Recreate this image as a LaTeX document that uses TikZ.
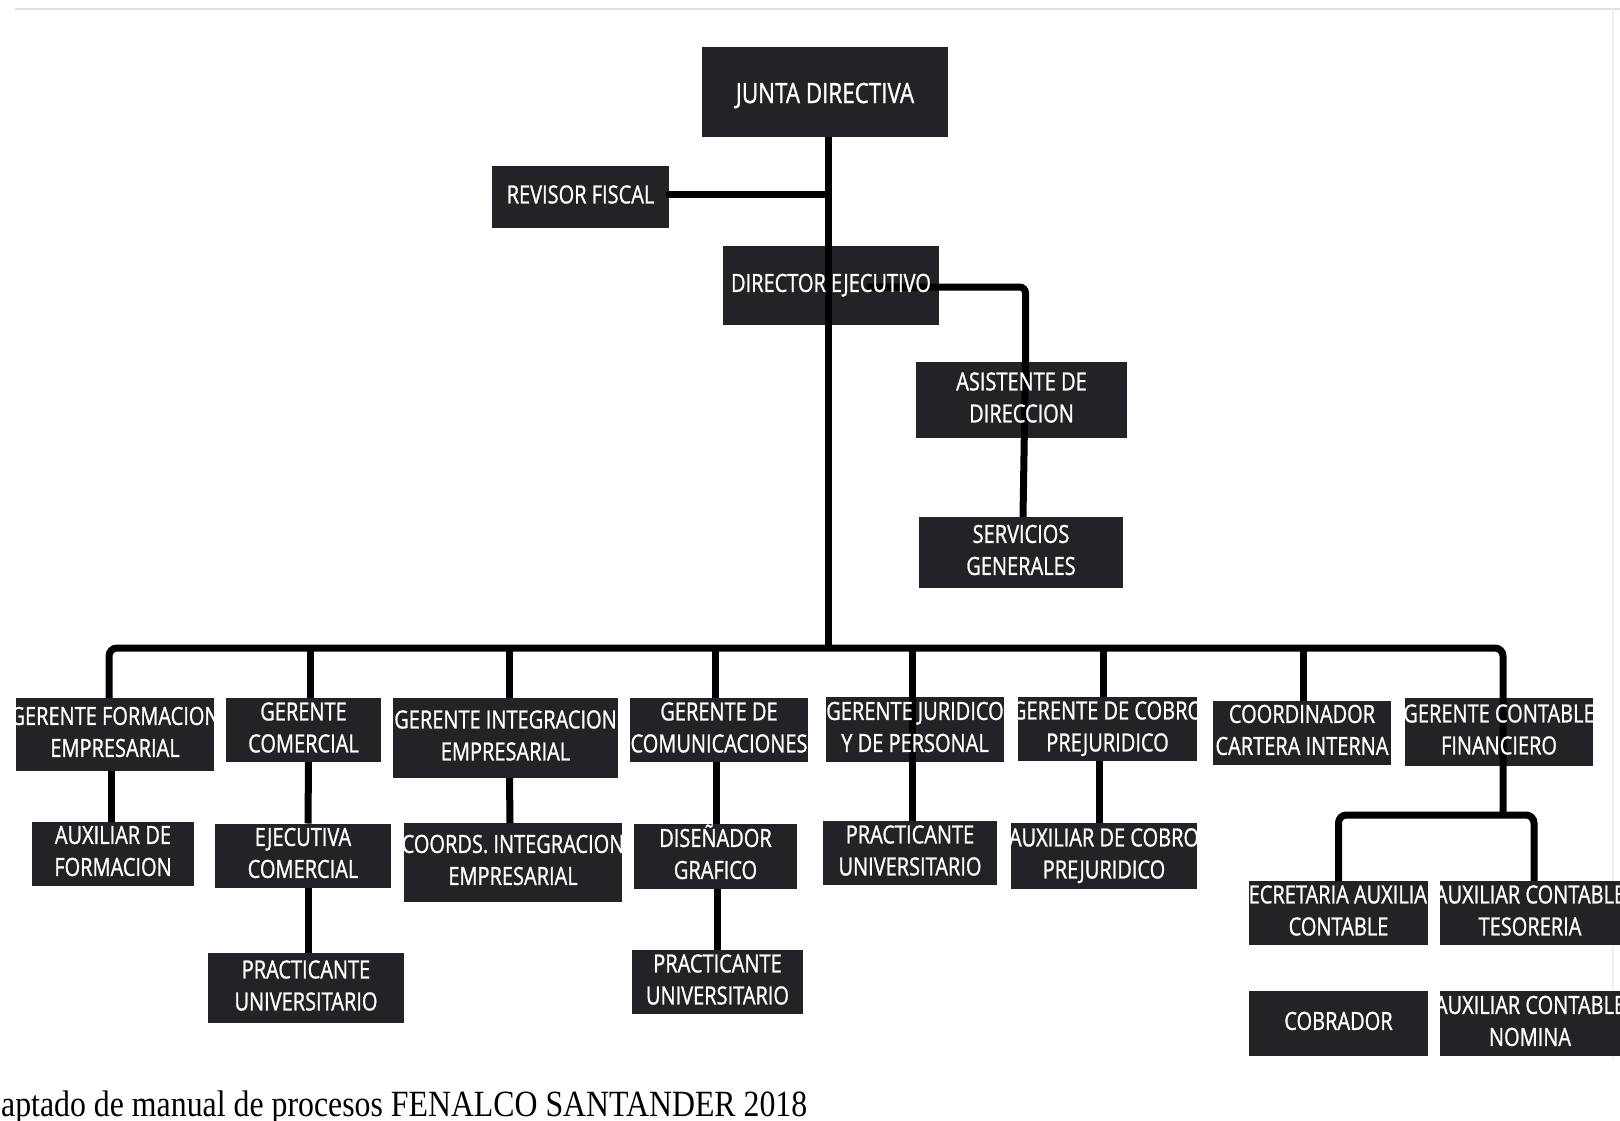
\documentclass[tikz,border=0pt]{standalone}
\usepackage{fontspec}
\newfontfamily\boxfont[FakeStretch=0.8,FakeBold=1]{Open Sans}
\newfontfamily\capfont[FakeStretch=0.86]{Liberation Serif}
\usetikzlibrary{calc}
\pgfdeclarelayer{fills}
\pgfdeclarelayer{lines}
\pgfsetlayers{fills,lines,main}
\definecolor{boxc}{RGB}{35,35,39}
\newcommand\bx[6]{%
  \node[orgbox, minimum width=#4, minimum height=#5] (#1) at (#2,#3)
    {\makebox[0pt]{\begin{tabular}{@{}c@{}}#6\end{tabular}}};
  \begin{pgfonlayer}{fills}\fill[boxc] (#1.north west) rectangle (#1.south east);\end{pgfonlayer}}
\begin{document}
\begin{tikzpicture}[x=1pt,y=-1pt,
  orgbox/.style={inner sep=0pt, outer sep=0pt, text=white,
    font=\boxfont\fontsize{25}{32}\selectfont},
  conn/.style={line width=7pt, black},
  faint/.style={line width=1.5pt, black!12}]
\useasboundingbox (0,0) rectangle (1620,1121);
\begin{pgfonlayer}{fills}
\fill[white] (0,0) rectangle (1620,1121);
\draw[faint] (15,9) -- (1620,9);
\draw[faint, black!6] (1613,9) -- (1613,1060);
\end{pgfonlayer}

\bx{junta}{825}{92}{246}{90}{\raisebox{-5pt}{\fontsize{28}{34}\selectfont JUNTA DIRECTIVA}}
\bx{revisor}{580.5}{197}{177}{62}{REVISOR FISCAL}
\bx{director}{831}{285.5}{216}{79}{DIRECTOR EJECUTIVO}
\bx{asist}{1021.5}{400}{211}{76}{ASISTENTE DE\\DIRECCION}
\bx{serv}{1021}{552.5}{204}{71}{SERVICIOS\\GENERALES}

\bx{gfe}{115}{734.5}{198}{73}{GERENTE FORMACION\\EMPRESARIAL}
\bx{auxf}{113}{853.5}{162}{59}{AUXILIAR DE\\FORMACION}
\bx{gcom}{303.5}{730}{155}{56}{GERENTE\\COMERCIAL}
\bx{ejec}{303}{855.5}{176}{63}{EJECUTIVA\\COMERCIAL}
\bx{pracA}{306}{988}{196}{70}{PRACTICANTE\\UNIVERSITARIO}
\bx{gint}{505.5}{738}{225}{80}{GERENTE INTEGRACION\\EMPRESARIAL}
\bx{coords}{513}{862.5}{218}{79}{COORDS. INTEGRACION\\EMPRESARIAL}
\bx{gcomu}{719}{730}{178}{64}{GERENTE DE\\COMUNICACIONES}
\bx{dis}{715.5}{856.5}{163}{59}{DISEÑADOR\\GRAFICO}
\bx{pracB}{717.5}{982}{171}{60}{PRACTICANTE\\UNIVERSITARIO}
\bx{gjur}{915}{729.5}{178}{65}{GERENTE JURIDICO\\Y DE PERSONAL}
\bx{pracC}{910}{853}{174}{62}{PRACTICANTE\\UNIVERSITARIO}
\bx{gcob}{1107.5}{729}{179}{64}{GERENTE DE COBRO\\PREJURIDICO}
\bx{auxcob}{1104}{856}{186}{66}{AUXILIAR DE COBRO\\PREJURIDICO}
\bx{coord}{1302}{732.5}{178}{63}{COORDINADOR\\CARTERA INTERNA}
\bx{gcont}{1499}{732}{188}{68}{GERENTE CONTABLE\\FINANCIERO}
\bx{secr}{1338.5}{913}{179}{64}{SECRETARIA AUXILIAR\\CONTABLE}
\bx{tes}{1530}{913}{180}{64}{AUXILIAR CONTABLE\\TESORERIA}
\bx{cobr}{1338.5}{1023.5}{179}{65}{COBRADOR}
\bx{nom}{1530}{1023.5}{180}{65}{AUXILIAR CONTABLE\\NOMINA}

\node[anchor=base west, inner sep=0pt, font=\capfont\fontsize{37}{37}\selectfont] (cap) at (1,1116)
  {aptado de manual de procesos FENALCO SANTANDER 2018};

\begin{pgfonlayer}{lines}
\coordinate (busL) at (109,648);
\coordinate (busR) at (1503,648);
\coordinate (sub) at (1503,815);
\coordinate (revend) at (824,194);
\coordinate (dstart) at (867,287);
% trunk
\draw[conn] ([xshift=3pt]junta.south) -- ([xshift=3pt]junta.south |- busL);
\draw[conn, line cap=round] ([yshift=3pt]revisor.east) -- (revend);
\draw[conn, rounded corners=6pt] (dstart) -| ([xshift=4pt]asist.north);
\draw[conn] ([xshift=4pt]asist.north) -- ([xshift=2pt]serv.north);
% main bus
\draw[conn, rounded corners=8pt] (busL |- gfe.north) -- (busL) -- (busR) -- (sub);
\draw[conn] ([xshift=-4pt]gfe.south) -- ([xshift=-2pt]auxf.north);
\draw[conn] ([xshift=6.5pt]gcom.north) -- ([xshift=6.5pt]gcom.north |- busL);
\draw[conn] ([xshift=5pt]gcom.south) -- ([xshift=5pt]ejec.north);
\draw[conn] ([xshift=5pt]ejec.south) -- ([xshift=2pt]pracA.north);
\draw[conn] ([xshift=3.5pt]gint.north) -- ([xshift=3.5pt]gint.north |- busL);
\draw[conn] ([xshift=4pt]gint.south) -- ([xshift=-3pt]coords.north);
\draw[conn] ([xshift=-4pt]gcomu.north) -- ([xshift=-4pt]gcomu.north |- busL);
\draw[conn] ([xshift=-3pt]gcomu.south) -- ([xshift=0.5pt]dis.north);
\draw[conn] ([xshift=1.5pt]dis.south) -- ([xshift=-0.5pt]pracB.north);
\draw[conn] ([xshift=-3pt]gjur.north |- busL) -- ([xshift=-3pt]gjur.north) -- ([xshift=2pt]pracC.north);
\draw[conn] ([xshift=-4.5pt]gcob.north) -- ([xshift=-4.5pt]gcob.north |- busL);
\draw[conn] ([xshift=-8.5pt]gcob.south) -- ([xshift=-5pt]auxcob.north);
\draw[conn] ([xshift=1pt]coord.north) -- ([xshift=1pt]coord.north |- busL);
% accounting sub-bus
\draw[conn, rounded corners=8pt] (secr.north) -- (secr.north |- sub) -- ([xshift=4pt]tes.north |- sub) -- ([xshift=4pt]tes.north);
\end{pgfonlayer}
\end{tikzpicture}
\end{document}
